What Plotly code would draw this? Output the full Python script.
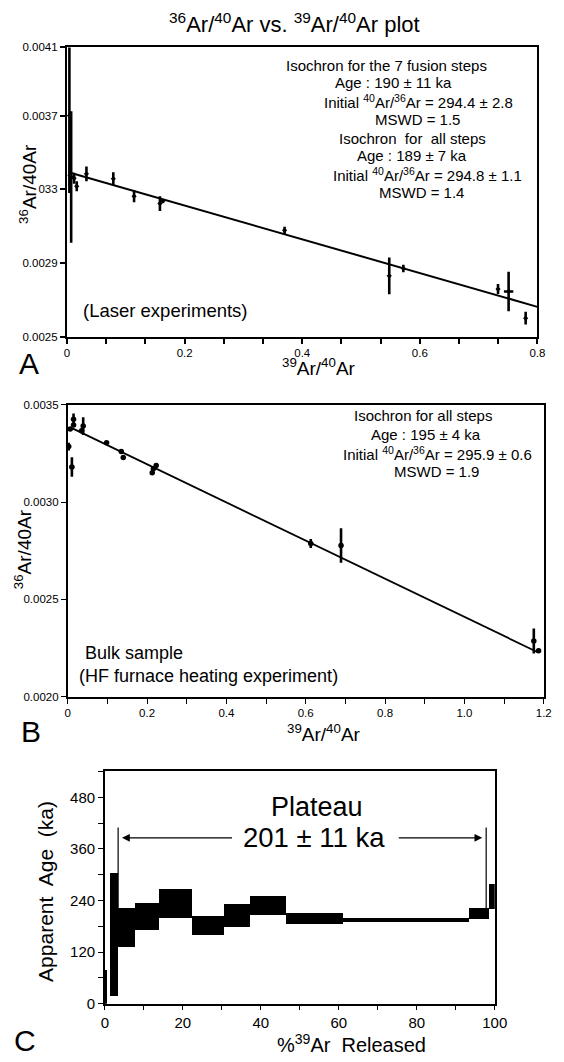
import plotly.graph_objects as go

W, H = 564, 1062
FONT = "Liberation Sans, Arial, Helvetica, sans-serif"


def px(x):
    return x / W


def py(y):
    return 1 - y / H


# ---------------- Panel A (laser experiments) ----------------
a_x = [0.004, 0.007, 0.005, 0.012, 0.0165, 0.033, 0.0787, 0.114, 0.158, 0.163,
       0.370, 0.548, 0.572, 0.733, 0.751, 0.780]
a_y = [0.00370, 0.003367, 0.003375, 0.00336, 0.003316, 0.003384, 0.003357, 0.003262,
       0.003222, 0.003236, 0.003077, 0.002830, 0.002870, 0.002758, 0.002745, 0.002600]
a_yerr = [0.00042, 0.000357, 0.00006, 0.00003, 0.000027, 0.00004, 0.000035, 0.000032,
          0.00004, 0.00001, 0.00002, 0.0001, 0.00002, 0.000027, 0.000107, 0.000035]
a_xerr = [0, 0, 0, 0, 0, 0, 0, 0, 0, 0, 0, 0, 0, 0, 0.008, 0]
a_intercept = 0.003395
a_slope = -0.000917
a_line_x = [0.004, 0.8]

# ---------------- Panel B (bulk sample) ----------------
b_x = [0.0025, 0.0064, 0.0105, 0.0147, 0.0147, 0.035, 0.039, 0.098, 0.135, 0.140,
       0.213, 0.216, 0.223, 0.6127, 0.689, 1.175, 1.187]
b_y = [0.003285, 0.003375, 0.003180, 0.003425, 0.003395, 0.003366, 0.003390, 0.003304,
       0.003259, 0.003229, 0.003151, 0.003171, 0.003188, 0.002787, 0.002777, 0.002286,
       0.002236]
b_yerr = [0.00002, 0.00001, 0.00005, 0.00003, 0.00001, 0.00001, 0.000046, 0.00001,
          0.00001, 0.00001, 0.00001, 0.00001, 0.00001, 0.000023, 0.000089, 0.000064,
          0.00001]
b_xerr = [0, 0, 0.006, 0, 0, 0, 0, 0, 0, 0, 0, 0, 0, 0, 0, 0, 0]
b_intercept = 0.00339
b_slope = -0.00098
b_line_x = [0.012, 1.185]

# ---------------- Panel C (age spectrum) ----------------
c_edges = [0.2, 0.6, 1.3, 3.3, 7.7, 13.9, 22.2, 30.5, 37.1, 46.3, 61.1, 93.4, 98.5, 100.0]
c_lo = [0, 0, 18, 132, 172, 201, 161, 178, 207, 185, 190, 198, 220]
c_hi = [79, 0, 305, 224, 234, 268, 205, 232, 252, 211, 200, 224, 278]
plateau_start, plateau_end = 3.4, 97.8
plateau_marker_top = 410
plateau_arrow_age = 386
plateau_arrow_inner = [33.0, 75.0]

fig = go.Figure()

err_style = dict(type="data", color="black", thickness=2.6, width=0, visible=True)

# Panel A
fig.add_trace(go.Scatter(
    x=a_line_x, y=[a_intercept + a_slope * v for v in a_line_x],
    mode="lines", line=dict(color="black", width=2), xaxis="x", yaxis="y",
    showlegend=False, hoverinfo="skip"))
fig.add_trace(go.Scatter(
    x=a_x, y=a_y, mode="markers",
    marker=dict(color="black", size=4, symbol="diamond"),
    error_y=dict(array=a_yerr, **err_style),
    error_x=dict(array=a_xerr, **err_style),
    xaxis="x", yaxis="y", showlegend=False))

# Panel B
fig.add_trace(go.Scatter(
    x=b_line_x, y=[b_intercept + b_slope * v for v in b_line_x],
    mode="lines", line=dict(color="black", width=1.8), xaxis="x2", yaxis="y2",
    showlegend=False, hoverinfo="skip"))
fig.add_trace(go.Scatter(
    x=b_x, y=b_y, mode="markers",
    marker=dict(color="black", size=5.5),
    error_y=dict(array=b_yerr, **err_style),
    error_x=dict(array=b_xerr, **err_style),
    xaxis="x2", yaxis="y2", showlegend=False))

# Panel C
mids = [(c_edges[i] + c_edges[i + 1]) / 2 for i in range(len(c_lo))]
widths = [c_edges[i + 1] - c_edges[i] for i in range(len(c_lo))]
fig.add_trace(go.Bar(
    x=mids, width=widths, base=c_lo, y=[h - l for h, l in zip(c_hi, c_lo)],
    marker=dict(color="black", line=dict(width=0)), xaxis="x3", yaxis="y3",
    showlegend=False))

axis_common = dict(showgrid=False, zeroline=False, showline=True, mirror=True,
                   linecolor="black", ticks="outside", tickcolor="black",
                   tickfont=dict(family=FONT, size=11.5, color="black"))
big_ticks = {**axis_common, "tickfont": dict(family=FONT, size=15, color="black")}

layout = dict(
    width=W, height=H, margin=dict(l=0, r=0, t=0, b=0),
    paper_bgcolor="white", plot_bgcolor="white",
    font=dict(family=FONT, color="black"),
    bargap=0,
    xaxis=dict(domain=[px(65), px(550)], range=[0, 0.8], anchor="y",
               tickvals=[0, 0.2, 0.4, 0.6, 0.8], ticktext=["0", "0.2", "0.4", "0.6", "0.8"],
               ticklen=5, linewidth=2.2, tickwidth=1.5,
               minor=dict(dtick=0.2 / 3, tick0=0, ticks="outside", ticklen=5, tickwidth=1.5, tickcolor="black"),
               **axis_common),
    yaxis=dict(domain=[py(335), py(42)], range=[0.0025, 0.00407], anchor="x",
               tickvals=[0.0025, 0.0029, 0.0033, 0.0037, 0.00407],
               ticktext=["0.0025", "0.0029", "033", "0.0037", "0.0041"],
               ticklen=5, linewidth=2.2, tickwidth=1.5, **axis_common),
    xaxis2=dict(domain=[px(65.7), px(556.5)], range=[0, 1.2], anchor="y2",
                tickvals=[0, 0.2, 0.4, 0.6, 0.8, 1.0, 1.2],
                ticktext=["0", "0.2", "0.4", "0.6", "0.8", "1.0", "1.2"],
                ticklen=5, linewidth=1.5, tickwidth=1.3,
                minor=dict(dtick=0.1, tick0=0, ticks="outside", ticklen=5, tickwidth=1.3, tickcolor="black"),
                **axis_common),
    yaxis2=dict(domain=[py(700), py(404)], range=[0.0020, 0.0035], anchor="x2",
                tickvals=[0.0020, 0.0025, 0.0030, 0.0035],
                ticktext=["0.0020", "0.0025", "0.0030", "0.0035"],
                ticklen=5, linewidth=1.5, tickwidth=1.3, **axis_common),
    xaxis3=dict(domain=[px(104), px(506)], range=[0, 100], anchor="y3",
                tickvals=[0, 20, 40, 60, 80, 100],
                ticklen=5, linewidth=1.5, tickwidth=1.2,
                minor=dict(dtick=10, tick0=0, ticks="outside", ticklen=5, tickwidth=1.2, tickcolor="black"),
                **big_ticks),
    yaxis3=dict(domain=[py(1011), py(775)], range=[0, 542], anchor="x3",
                tickvals=[0, 120, 240, 360, 480],
                ticklen=5, linewidth=1.5, tickwidth=1.2,
                minor=dict(dtick=60, tick0=0, ticks="outside", ticklen=5, tickwidth=1.2, tickcolor="black"),
                **big_ticks),
)
fig.update_layout(**layout)


def ann(text, x, y, size, angle=0, xanchor="center"):
    fig.add_annotation(text=text, x=px(x), y=py(y), xref="paper", yref="paper",
                       showarrow=False, xanchor=xanchor, yanchor="middle",
                       textangle=angle, font=dict(family=FONT, size=size, color="black"))


# Titles & labels
ann("<sup>36</sup>Ar/<sup>40</sup>Ar vs. <sup>39</sup>Ar/<sup>40</sup>Ar plot", 300, 17, 22)
ann("<sup>36</sup>Ar/40Ar", 24, 180, 19, angle=-90)
ann("<sup>39</sup>Ar/<sup>40</sup>Ar", 325, 366, 19)
ann("A", 26, 362, 30)
ann("(Laser experiments)", 167, 309, 18.5)

a_lines = [
    ("Isochron for the 7 fusion steps", 394, 60),
    ("Age : 190 ± 11 ka", 402, 78),
    ("Initial <sup>40</sup>Ar/<sup>36</sup>Ar = 294.4 ± 2.8", 427, 97),
    ("MSWD = 1.5", 426, 115),
    ("Isochron  for  all steps", 421, 134),
    ("Age : 189 ± 7 ka", 421, 152),
    ("Initial <sup>40</sup>Ar/<sup>36</sup>Ar = 294.8 ± 1.1", 437, 171),
    ("MSWD = 1.4", 430, 189),
]
for t, x, y in a_lines:
    ann(t, x, y, 15)

ann("<sup>36</sup>Ar/40Ar", 19, 550, 19, angle=-90)
ann("<sup>39</sup>Ar/<sup>40</sup>Ar", 330, 737, 19)
ann("B", 28, 735, 30)
ann("Bulk sample", 134, 656, 18)
ann("(HF furnace heating experiment)", 211, 679, 18)
b_lines = [
    ("Isochron for all steps", 432, 415),
    ("Age : 195 ± 4 ka", 435, 434),
    ("Initial <sup>40</sup>Ar/<sup>36</sup>Ar = 295.9 ± 0.6", 447, 453),
    ("MSWD = 1.9", 446, 472),
]
for t, x, y in b_lines:
    ann(t, x, y, 15)

ann("Apparent  Age  (ka)", 42, 897, 21, angle=-90)
ann("%<sup>39</sup>Ar  Released", 358, 1051, 20)
ann("C", 22, 1048, 30)
ann("Plateau", 323, 812, 27)
ann("201 ± 11 ka", 320, 843, 27.5)

# Plateau arrows
fig.add_annotation(x=plateau_start + 1.0, y=plateau_arrow_age, ax=plateau_arrow_inner[0], ay=plateau_arrow_age,
                   xref="x3", yref="y3", axref="x3", ayref="y3", text="", showarrow=True,
                   arrowhead=2, arrowsize=1.3, arrowwidth=1.2, arrowcolor="black")
fig.add_annotation(x=plateau_end - 1.0, y=plateau_arrow_age, ax=plateau_arrow_inner[1], ay=plateau_arrow_age,
                   xref="x3", yref="y3", axref="x3", ayref="y3", text="", showarrow=True,
                   arrowhead=2, arrowsize=1.3, arrowwidth=1.2, arrowcolor="black")
for xv in (plateau_start, plateau_end):
    fig.add_shape(type="line", xref="x3", yref="y3", x0=xv, x1=xv, y0=220, y1=plateau_marker_top,
                  line=dict(color="black", width=1.2))

fig.write_html("out.html")
